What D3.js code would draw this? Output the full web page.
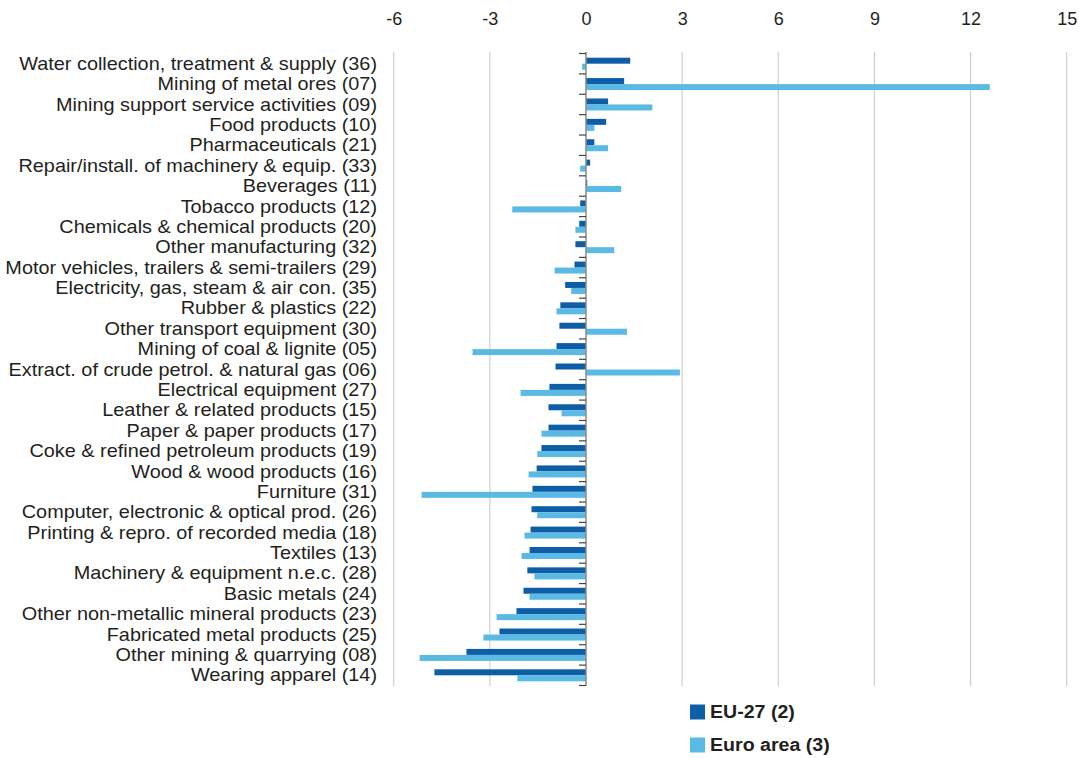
<!DOCTYPE html>
<html><head><meta charset="utf-8">
<script src="https://cdn.jsdelivr.net/npm/d3@7"></script>
<style>body{margin:0;background:#fff}svg{display:block}text{font-family:"Liberation Sans",Arial,sans-serif;fill:#231f20}</style>
</head><body><svg id="c" width="1079" height="758"></svg>
<script>
const categories = ["Water collection, treatment & supply (36)","Mining of metal ores (07)","Mining support service activities (09)","Food products (10)","Pharmaceuticals (21)","Repair/install. of machinery & equip. (33)","Beverages (11)","Tobacco products (12)","Chemicals & chemical products (20)","Other manufacturing (32)","Motor vehicles, trailers & semi-trailers (29)","Electricity, gas, steam & air con. (35)","Rubber & plastics (22)","Other transport equipment (30)","Mining of coal & lignite (05)","Extract. of crude petrol. & natural gas (06)","Electrical equipment (27)","Leather & related products (15)","Paper & paper products (17)","Coke & refined petroleum products (19)","Wood & wood products (16)","Furniture (31)","Computer, electronic & optical prod. (26)","Printing & repro. of recorded media (18)","Textiles (13)","Machinery & equipment n.e.c. (28)","Basic metals (24)","Other non-metallic mineral products (23)","Fabricated metal products (25)","Other mining & quarrying (08)","Wearing apparel (14)"];
const eu27 = [1.38,1.19,0.69,0.63,0.26,0.13,0.04,-0.18,-0.21,-0.33,-0.36,-0.65,-0.8,-0.83,-0.92,-0.95,-1.14,-1.17,-1.17,-1.39,-1.54,-1.67,-1.70,-1.73,-1.76,-1.83,-1.95,-2.17,-2.70,-3.73,-4.73];
const euroArea = [-0.12,12.6,2.07,0.26,0.69,-0.18,1.1,-2.3,-0.33,0.88,-0.98,-0.46,-0.92,1.28,-3.54,2.93,-2.04,-0.76,-1.39,-1.52,-1.79,-5.13,-1.52,-1.92,-2.01,-1.61,-1.76,-2.79,-3.2,-5.19,-2.14];
const xTicks = [-6,-3,0,3,6,9,12,15];
const seriesNames = ["EU-27 (2)","Euro area (3)"];
const colors = ["#0e5da7","#5bbae4"];

const svg = d3.select("#c");
const x = d3.scaleLinear().domain([-6,15]).range([393.7,1066.7]);
const y = d3.scaleBand().domain(categories).range([53.5,685.5]);
const bw = y.bandwidth();

// gridlines
svg.append("g").selectAll("line").data(xTicks.filter(d=>d!==0)).join("line")
  .attr("x1",d=>x(d)).attr("x2",d=>x(d)).attr("y1",52).attr("y2",686)
  .attr("stroke","#cfcfcf").attr("stroke-width",1.2);

// top axis labels
const ax = d3.axisTop(x).tickValues(xTicks).tickSize(0).tickFormat(d=>String(d));
const axg = svg.append("g").attr("transform","translate(0,19)").call(ax);
axg.select(".domain").remove();
axg.selectAll("text").attr("font-size",18).attr("font-family","Liberation Sans").attr("fill","#231f20").attr("dy","0.35em").attr("y",0);

// bars
const data = categories.map((c,i)=>({c,v:[eu27[i],euroArea[i]]}));
const g = svg.append("g");
data.forEach(d=>{
  d.v.forEach((v,k)=>{
    g.append("rect")
      .attr("x",x(Math.min(0,v))).attr("width",Math.abs(x(v)-x(0)))
      .attr("y",y(d.c)+bw/2-6+k*6).attr("height",6)
      .attr("fill",colors[k]);
  });
});

// zero axis + ticks
svg.append("line").attr("x1",x(0)).attr("x2",x(0)).attr("y1",52).attr("y2",686).attr("stroke","#8a8a8a").attr("stroke-width",1.5);
const bounds = categories.map(c=>y(c)).concat([y.range()[1]]);
svg.append("g").selectAll("line").data(bounds).join("line")
  .attr("x1",x(0)-7).attr("x2",x(0)).attr("y1",d=>d).attr("y2",d=>d)
  .attr("stroke","#444").attr("stroke-width",1.2);

// category labels
svg.append("g").attr("transform","translate(377,0) scale(1.135,1)")
  .selectAll("text").data(categories).join("text")
  .attr("x",0).attr("y",d=>y(d)+bw/2).attr("dy","0.35em")
  .attr("text-anchor","end").attr("font-size",17.5).text(d=>d);

// legend
const lg = svg.append("g");
seriesNames.forEach((n,k)=>{
  const yy = 712 + k*33;
  lg.append("rect").attr("x",690).attr("y",yy-7.5).attr("width",15).attr("height",15).attr("fill",colors[k]);
  lg.append("text").attr("transform",`translate(710,${yy}) scale(1.12,1)`).attr("dy","0.35em").attr("font-size",17.5).attr("font-weight","bold").text(n);
});
</script></body></html>
